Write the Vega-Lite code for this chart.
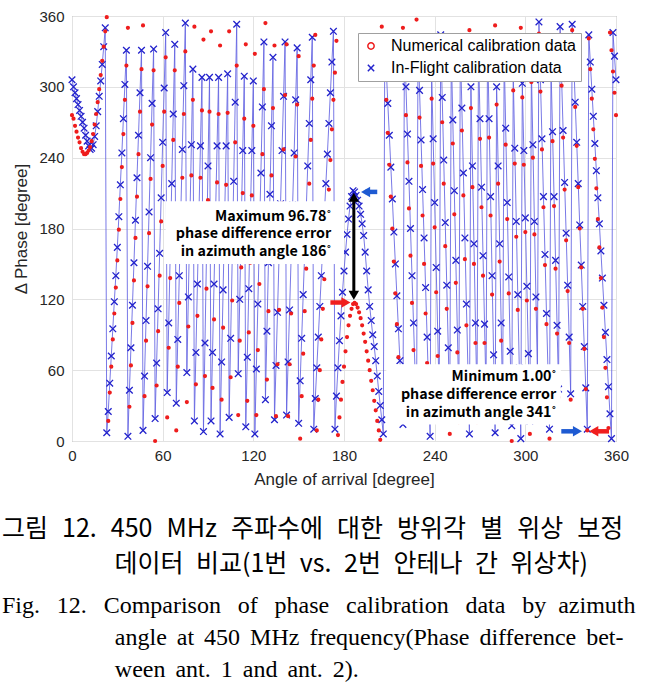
{
"$schema":"https://vega.github.io/schema/vega-lite/v6.json",
"width":544,"height":425,
"autosize":"none",
"padding":{"left":72,"top":16,"right":34,"bottom":256},
"background":"white",
"config":{"view":{"stroke":"#8c8c8c","strokeWidth":1},"font":"Liberation Sans"},
"title":{"text":["그림\u2002\u200a12.\u2002\u200a450\u2002\u200aMHz\u2002\u200a주파수에\u2002\u200a대한\u2002\u200a방위각\u2002\u200a별\u2002\u200a위상\u2002\u200a보정","\u200b\u3000\u3000\u3000\u3000\u2002데이터\u2002비교(1번\u2002vs.\u20022번\u2002안테나\u2002간\u2002위상차)"],
"subtitle":["Fig.\u2002\u200912.\u2002\u2009Comparison\u2002\u2009of\u2002\u2009phase\u2002\u2009calibration\u2002\u2009data\u2002\u2009by\u2002azimuth","\u200b\u2003\u2003\u2003\u2003\u2002\u2009angle\u2004\u200aat\u2004\u200a450\u2004\u200aMHz\u2004\u200afrequency(Phase\u2004\u200adifference\u2004\u200abet-","\u200b\u2003\u2003\u2003\u2003\u2002\u2009ween\u2004\u200aant.\u2004\u200a1\u2004\u200aand\u2004\u200aant.\u2004\u200a2)."],
"orient":"bottom","anchor":"start","frame":"group","dx":-70,"offset":30,
"font":"Noto Sans CJK KR","fontSize":25,"fontWeight":"normal","color":"black","lineHeight":35,
"subtitleFont":"Liberation Serif","subtitleFontSize":24,"subtitleColor":"black","subtitleLineHeight":32,"subtitlePadding":17},
"datasets":{"cal":[
{"a":0,"n":276,"f":306},{"a":1,"n":273,"f":300},{"a":2,"n":267,"f":295},{"a":3,"n":262,"f":290},{"a":4,"n":257,"f":285},{"a":5,"n":253,"f":280},{"a":6,"n":248,"f":275},{"a":7,"n":245,"f":270},{"a":8,"n":243,"f":265},{"a":9,"n":243,"f":259},
{"a":10,"n":244,"f":254},{"a":11,"n":246,"f":250},{"a":12,"n":249,"f":247},{"a":13,"n":254,"f":248},{"a":14,"n":260,"f":251},{"a":15,"n":268,"f":258},{"a":16,"n":277,"f":267},{"a":17,"n":287,"f":279},{"a":18,"n":298,"f":292},{"a":19,"n":310,"f":305},
{"a":20,"n":322,"f":319},{"a":21,"n":334,"f":334},{"a":22,"n":347,"f":350},{"a":23,"n":359,"f":7},{"a":24,"n":17,"f":25},{"a":25,"n":41,"f":49},{"a":26,"n":63,"f":72},{"a":27,"n":86,"f":95},{"a":28,"n":108,"f":118},{"a":29,"n":130,"f":140},
{"a":30,"n":153,"f":164},{"a":31,"n":179,"f":190},{"a":32,"n":205,"f":217},{"a":33,"n":232,"f":244},{"a":34,"n":260,"f":273},{"a":35,"n":289,"f":302},{"a":36,"n":318,"f":331},{"a":37,"n":350,"f":4},{"a":38,"n":29,"f":43},{"a":39,"n":64,"f":79},
{"a":40,"n":100,"f":115},{"a":41,"n":136,"f":151},{"a":42,"n":172,"f":187},{"a":43,"n":207,"f":223},{"a":44,"n":243,"f":259},{"a":45,"n":279,"f":295},{"a":46,"n":315,"f":331},{"a":47,"n":352,"f":9},{"a":48,"n":38,"f":55},{"a":49,"n":85,"f":102},
{"a":50,"n":131,"f":148},{"a":51,"n":176,"f":194},{"a":52,"n":222,"f":240},{"a":53,"n":268,"f":286},{"a":54,"n":314,"f":332},{"a":55,"n":0,"f":19},{"a":56,"n":47,"f":66},{"a":57,"n":93,"f":112},{"a":58,"n":140,"f":159},{"a":59,"n":186,"f":206},
{"a":60,"n":233,"f":253},{"a":61,"n":279,"f":299},{"a":62,"n":325,"f":346},{"a":63,"n":20,"f":41},{"a":64,"n":79,"f":100},{"a":65,"n":138,"f":159},{"a":66,"n":196,"f":218},{"a":67,"n":255,"f":277},{"a":68,"n":314,"f":336},{"a":69,"n":9,"f":32},
{"a":70,"n":63,"f":86},{"a":71,"n":117,"f":140},{"a":72,"n":169,"f":193},{"a":73,"n":223,"f":247},{"a":74,"n":277,"f":301},{"a":75,"n":330,"f":354},{"a":76,"n":33,"f":58},{"a":77,"n":97,"f":122},{"a":78,"n":162,"f":187},{"a":79,"n":225,"f":251},
{"a":80,"n":289,"f":315},{"a":81,"n":351,"f":17},{"a":82,"n":48,"f":75},{"a":83,"n":106,"f":133},{"a":84,"n":165,"f":192},{"a":85,"n":223,"f":250},{"a":86,"n":280,"f":308},{"a":87,"n":340,"f":8},{"a":88,"n":55,"f":83},{"a":89,"n":129,"f":158},
{"a":90,"n":204,"f":233},{"a":91,"n":279,"f":308},{"a":92,"n":347,"f":17},{"a":93,"n":45,"f":75},{"a":94,"n":103,"f":133},{"a":95,"n":162,"f":192},{"a":96,"n":219,"f":250},{"a":97,"n":277,"f":308},{"a":98,"n":335,"f":6},{"a":99,"n":35,"f":67},
{"a":100,"n":96,"f":128},{"a":101,"n":157,"f":189},{"a":102,"n":217,"f":250},{"a":103,"n":278,"f":311},{"a":104,"n":347,"f":20},{"a":105,"n":54,"f":87},{"a":106,"n":119,"f":153},{"a":107,"n":186,"f":220},{"a":108,"n":253,"f":287},{"a":109,"n":318,"f":353},
{"a":110,"n":22,"f":57},{"a":111,"n":85,"f":120},{"a":112,"n":147,"f":183},{"a":113,"n":210,"f":246},{"a":114,"n":273,"f":309},{"a":115,"n":336,"f":12},{"a":116,"n":34,"f":71},{"a":117,"n":92,"f":129},{"a":118,"n":151,"f":188},{"a":119,"n":208,"f":246},
{"a":120,"n":267,"f":305},{"a":121,"n":328,"f":6},{"a":122,"n":22,"f":61},{"a":123,"n":77,"f":116},{"a":124,"n":133,"f":172},{"a":125,"n":187,"f":227},{"a":126,"n":243,"f":283},{"a":127,"n":298,"f":338},{"a":128,"n":354,"f":35},{"a":129,"n":52,"f":93},
{"a":130,"n":110,"f":151},{"a":131,"n":167,"f":209},{"a":132,"n":225,"f":267},{"a":133,"n":282,"f":325},{"a":134,"n":335,"f":18},{"a":135,"n":21,"f":64},{"a":136,"n":65,"f":109},{"a":137,"n":111,"f":155},{"a":138,"n":157,"f":201},{"a":139,"n":201,"f":246},
{"a":140,"n":247,"f":292},{"a":141,"n":293,"f":338},{"a":142,"n":336,"f":22},{"a":143,"n":21,"f":67},{"a":144,"n":65,"f":111},{"a":145,"n":108,"f":155},{"a":146,"n":153,"f":200},{"a":147,"n":197,"f":244},{"a":148,"n":241,"f":289},{"a":149,"n":285,"f":333},
{"a":150,"n":326,"f":15},{"a":151,"n":2,"f":51},{"a":152,"n":38,"f":87},{"a":153,"n":74,"f":124},{"a":154,"n":110,"f":160},{"a":155,"n":146,"f":196},{"a":156,"n":182,"f":233},{"a":157,"n":218,"f":269},{"a":158,"n":255,"f":306},{"a":159,"n":290,"f":342},
{"a":160,"n":318,"f":10},{"a":161,"n":344,"f":36},{"a":162,"n":9,"f":62},{"a":163,"n":35,"f":88},{"a":164,"n":60,"f":114},{"a":165,"n":86,"f":140},{"a":166,"n":112,"f":166},{"a":167,"n":137,"f":192},{"a":168,"n":163,"f":218},{"a":169,"n":187,"f":243},
{"a":170,"n":213,"f":269},{"a":171,"n":238,"f":295},{"a":172,"n":264,"f":321},{"a":173,"n":289,"f":347},{"a":174,"n":312,"f":10},{"a":175,"n":339,"f":38},{"a":176,"n":5,"f":62},{"a":177,"n":20,"f":85},{"a":178,"n":35,"f":106},{"a":179,"n":50,"f":126},
{"a":180,"n":63,"f":144},{"a":181,"n":76,"f":160},{"a":182,"n":88,"f":175},{"a":183,"n":98,"f":188},{"a":184,"n":106,"f":199},{"a":185,"n":112,"f":207},{"a":186,"n":116,"f":212},{"a":187,"n":117,"f":211},{"a":188,"n":116,"f":208},{"a":189,"n":113,"f":204},
{"a":190,"n":109,"f":199},{"a":191,"n":104,"f":192},{"a":192,"n":98,"f":184},{"a":193,"n":91,"f":174},{"a":194,"n":84,"f":160},{"a":195,"n":76,"f":144},{"a":196,"n":68,"f":128},{"a":197,"n":60,"f":114},{"a":198,"n":51,"f":102},{"a":199,"n":43,"f":90},
{"a":200,"n":34,"f":80},{"a":201,"n":26,"f":68},{"a":202,"n":17,"f":55},{"a":203,"n":9,"f":42},{"a":204,"n":1,"f":30},{"a":205,"n":351,"f":18},{"a":206,"n":340,"f":6},{"a":207,"n":316,"f":341},{"a":208,"n":289,"f":314},{"a":209,"n":261,"f":286},
{"a":210,"n":234,"f":259},{"a":211,"n":207,"f":232},{"a":212,"n":180,"f":205},{"a":213,"n":152,"f":177},{"a":214,"n":125,"f":150},{"a":215,"n":99,"f":123},{"a":216,"n":71,"f":95},{"a":217,"n":44,"f":68},{"a":218,"n":17,"f":41},{"a":219,"n":350,"f":14},
{"a":220,"n":316,"f":340},{"a":221,"n":276,"f":300},{"a":222,"n":236,"f":260},{"a":223,"n":197,"f":220},{"a":224,"n":157,"f":180},{"a":225,"n":117,"f":140},{"a":226,"n":77,"f":100},{"a":227,"n":37,"f":60},{"a":228,"n":357,"f":20},{"a":229,"n":316,"f":339},
{"a":230,"n":274,"f":297},{"a":231,"n":233,"f":255},{"a":232,"n":191,"f":213},{"a":233,"n":150,"f":172},{"a":234,"n":108,"f":130},{"a":235,"n":66,"f":88},{"a":236,"n":24,"f":46},{"a":237,"n":342,"f":4},{"a":238,"n":290,"f":311},{"a":239,"n":235,"f":256},
{"a":240,"n":181,"f":202},{"a":241,"n":126,"f":147},{"a":242,"n":72,"f":93},{"a":243,"n":17,"f":38},{"a":244,"n":323,"f":344},{"a":245,"n":270,"f":291},{"a":246,"n":218,"f":238},{"a":247,"n":165,"f":185},{"a":248,"n":112,"f":132},{"a":249,"n":59,"f":79},
{"a":250,"n":6,"f":26},{"a":251,"n":311,"f":331},{"a":252,"n":252,"f":272},{"a":253,"n":192,"f":212},{"a":254,"n":134,"f":153},{"a":255,"n":75,"f":94},{"a":256,"n":16,"f":35},{"a":257,"n":319,"f":338},{"a":258,"n":263,"f":282},{"a":259,"n":208,"f":227},
{"a":260,"n":154,"f":172},{"a":261,"n":98,"f":116},{"a":262,"n":43,"f":61},{"a":263,"n":348,"f":6},{"a":264,"n":282,"f":300},{"a":265,"n":215,"f":233},{"a":266,"n":150,"f":167},{"a":267,"n":83,"f":100},{"a":268,"n":16,"f":33},{"a":269,"n":314,"f":331},
{"a":270,"n":256,"f":273},{"a":271,"n":198,"f":215},{"a":272,"n":140,"f":157},{"a":273,"n":83,"f":99},{"a":274,"n":25,"f":41},{"a":275,"n":324,"f":340},{"a":276,"n":257,"f":273},{"a":277,"n":191,"f":207},{"a":278,"n":124,"f":140},{"a":279,"n":58,"f":73},
{"a":280,"n":352,"f":7},{"a":281,"n":285,"f":300},{"a":282,"n":218,"f":233},{"a":283,"n":152,"f":167},{"a":284,"n":85,"f":100},{"a":285,"n":19,"f":33},{"a":286,"n":314,"f":328},{"a":287,"n":251,"f":265},{"a":288,"n":188,"f":202},{"a":289,"n":125,"f":139},
{"a":290,"n":62,"f":76},{"a":291,"n":0,"f":13},{"a":292,"n":297,"f":310},{"a":293,"n":235,"f":248},{"a":294,"n":173,"f":186},{"a":295,"n":111,"f":124},{"a":296,"n":49,"f":62},{"a":297,"n":350,"f":2},{"a":298,"n":291,"f":303},{"a":299,"n":234,"f":246},
{"a":300,"n":177,"f":189},{"a":301,"n":119,"f":131},{"a":302,"n":62,"f":74},{"a":303,"n":6,"f":17},{"a":304,"n":304,"f":315},{"a":305,"n":240,"f":251},{"a":306,"n":175,"f":186},{"a":307,"n":112,"f":122},{"a":308,"n":48,"f":58},{"a":309,"n":345,"f":355},
{"a":310,"n":296,"f":306},{"a":311,"n":247,"f":256},{"a":312,"n":198,"f":207},{"a":313,"n":149,"f":158},{"a":314,"n":99,"f":108},{"a":315,"n":51,"f":59},{"a":316,"n":2,"f":10},{"a":317,"n":308,"f":316},{"a":318,"n":254,"f":262},{"a":319,"n":199,"f":207},
{"a":320,"n":146,"f":153},{"a":321,"n":91,"f":98},{"a":322,"n":37,"f":44},{"a":323,"n":344,"f":351},{"a":324,"n":301,"f":307},{"a":325,"n":257,"f":263},{"a":326,"n":213,"f":219},{"a":327,"n":170,"f":176},{"a":328,"n":127,"f":132},{"a":329,"n":83,"f":88},
{"a":330,"n":35,"f":40},{"a":331,"n":348,"f":353},{"a":332,"n":318,"f":322},{"a":333,"n":283,"f":287},{"a":334,"n":250,"f":253},{"a":335,"n":215,"f":218},{"a":336,"n":180,"f":183},{"a":337,"n":147,"f":149},{"a":338,"n":112,"f":114},{"a":339,"n":78,"f":80},
{"a":340,"n":44,"f":45},{"a":341,"n":9,"f":10},{"a":342,"n":341,"f":344},{"a":343,"n":315,"f":321},{"a":344,"n":290,"f":298},{"a":345,"n":264,"f":275},{"a":346,"n":239,"f":252},{"a":347,"n":214,"f":229},{"a":348,"n":188,"f":206},{"a":349,"n":164,"f":184},
{"a":350,"n":138,"f":161},{"a":351,"n":113,"f":138},{"a":352,"n":88,"f":115},{"a":353,"n":62,"f":92},{"a":354,"n":37,"f":69},{"a":355,"n":11,"f":46},{"a":356,"n":346,"f":23},{"a":357,"n":331,"f":2},{"a":358,"n":313,"f":346},{"a":359,"n":295,"f":326},
{"a":360,"n":276,"f":306}
]},
"layer":[
{"data":{"name":"cal"},
 "mark":{"type":"line","color":"#6262e2","strokeWidth":1,"opacity":0.85},
 "encoding":{
  "x":{"field":"a","type":"quantitative","scale":{"domain":[0,360],"nice":false},
   "axis":{"values":[0,60,120,180,240,300,360],"labelFlush":false,"grid":true,"gridColor":"#e2e2e2","domain":false,"ticks":false,"labelFontSize":15,"labelColor":"#262626","labelPadding":7,"labelFont":"Liberation Sans","title":"Angle of arrival [degree]","titleFont":"Liberation Sans","titleFontSize":17,"titleFontWeight":"normal","titleColor":"#262626","titlePadding":8}},
  "y":{"field":"f","type":"quantitative","scale":{"domain":[0,360],"nice":false},
   "axis":{"values":[0,60,120,180,240,300,360],"labelFlush":false,"grid":true,"gridColor":"#e2e2e2","domain":false,"ticks":false,"labelFontSize":15,"labelColor":"#262626","labelPadding":8,"labelFont":"Liberation Sans","title":"Δ Phase [degree]","titleFont":"Liberation Sans","titleFontSize":17,"titleFontWeight":"normal","titleColor":"#262626","titlePadding":8}}}},
{"data":{"name":"cal"},
 "mark":{"type":"point","filled":false,"size":44,"strokeWidth":1.3,"opacity":1},
 "encoding":{
  "x":{"field":"a","type":"quantitative"},
  "y":{"field":"f","type":"quantitative"},
  "color":{"datum":"f","type":"nominal","scale":{"domain":["n","f"],"range":["#ee1c1c","#2222cc"]},
   "legend":{"orient":"none","legendX":286,"legendY":17,"title":null,"fillColor":"white","strokeColor":"#a0a0a0","padding":5,"labelFontSize":16,"labelFont":"Liberation Sans","labelColor":"black","labelLimit":320,"rowPadding":6,"labelOffset":12,"symbolSize":40,
    "labelExpr":"datum.value === 'n' ? 'Numerical calibration data' : 'In-Flight calibration data'",
    "encode":{"symbols":{
      "shape":{"value":{"expr":"datum.value === 'f' ? 'M-3.7,0L3.7,0M-1,-1L1,1M-1,1L1,-1' : 'circle'"}},
      "size":{"value":{"expr":"datum.value === 'f' ? 40 : 9"}},
      "fill":{"value":{"expr":"datum.value === 'f' ? 'transparent' : '#ee1c1c'"}},
      "strokeWidth":{"value":{"expr":"datum.value === 'f' ? 1.2 : 1"}}}}}},
  "shape":{"datum":"f","type":"nominal","scale":{"domain":["n","f"],"range":["circle","M-1,-1L1,1M-1,1L1,-1"]},"legend":null}}},
{"data":{"name":"cal"},
 "mark":{"type":"point","filled":false,"size":4,"strokeWidth":2.2,"opacity":1},
 "encoding":{
  "x":{"field":"a","type":"quantitative"},
  "y":{"field":"n","type":"quantitative"},
  "color":{"datum":"n","type":"nominal"},
  "shape":{"datum":"n","type":"nominal","legend":null}}},
{"data":{"values":[{}]},"mark":{"type":"rect","fill":"white"},
 "encoding":{"x":{"datum":62,"type":"quantitative"},"x2":{"datum":180},"y":{"datum":150,"type":"quantitative"},"y2":{"datum":203}}},
{"data":{"values":[{}]},"mark":{"type":"text","align":"right","baseline":"middle","font":"Noto Sans CJK KR","fontWeight":"bold","fontSize":14.3,"lineHeight":17.5,"color":"black"},
 "encoding":{"x":{"datum":171.5,"type":"quantitative"},"y":{"datum":190,"type":"quantitative"},"text":{"value":["Maximum 96.78˚","phase difference error","in azimuth angle 186˚"]}}},
{"data":{"values":[{}]},"mark":{"type":"rect","fill":"white"},
 "encoding":{"x":{"datum":208,"type":"quantitative"},"x2":{"datum":323.5},"y":{"datum":14,"type":"quantitative"},"y2":{"datum":65}}},
{"data":{"values":[{}]},"mark":{"type":"text","align":"right","baseline":"middle","font":"Noto Sans CJK KR","fontWeight":"bold","fontSize":14.3,"lineHeight":18,"color":"black"},
 "encoding":{"x":{"datum":320.5,"type":"quantitative"},"y":{"datum":54.5,"type":"quantitative"},"text":{"value":["Minimum 1.00˚","phase difference error","in azimuth angle 341˚"]}}},
{"data":{"values":[{}]},"mark":{"type":"rule","color":"black","strokeWidth":3},
 "encoding":{"x":{"datum":186.5,"type":"quantitative"},"y":{"datum":123,"type":"quantitative"},"y2":{"datum":206}}},
{"data":{"values":[{}]},"mark":{"type":"point","shape":"triangle-up","filled":true,"color":"black","size":110,"opacity":1},
 "encoding":{"x":{"datum":186.5,"type":"quantitative"},"y":{"datum":206.5,"type":"quantitative"}}},
{"data":{"values":[{}]},"mark":{"type":"point","shape":"triangle-down","filled":true,"color":"black","size":110,"opacity":1},
 "encoding":{"x":{"datum":186.5,"type":"quantitative"},"y":{"datum":123.5,"type":"quantitative"}}},
{"data":{"values":[{}]},"mark":{"type":"rule","color":"#f01e1e","strokeWidth":4.5},
 "encoding":{"x":{"datum":171,"type":"quantitative"},"x2":{"datum":181},"y":{"datum":117.3,"type":"quantitative"}}},
{"data":{"values":[{}]},"mark":{"type":"point","shape":"triangle-right","filled":true,"color":"#f01e1e","size":110,"opacity":1},
 "encoding":{"x":{"datum":181.3,"type":"quantitative"},"y":{"datum":117.3,"type":"quantitative"}}},
{"data":{"values":[{}]},"mark":{"type":"rule","color":"#1e5ad2","strokeWidth":4.5},
 "encoding":{"x":{"datum":194,"type":"quantitative"},"x2":{"datum":202},"y":{"datum":211,"type":"quantitative"}}},
{"data":{"values":[{}]},"mark":{"type":"point","shape":"triangle-left","filled":true,"color":"#1e5ad2","size":110,"opacity":1},
 "encoding":{"x":{"datum":194.3,"type":"quantitative"},"y":{"datum":211,"type":"quantitative"}}},
{"data":{"values":[{}]},"mark":{"type":"rule","color":"#1e5ad2","strokeWidth":4.5},
 "encoding":{"x":{"datum":323.8,"type":"quantitative"},"x2":{"datum":334},"y":{"datum":8.2,"type":"quantitative"}}},
{"data":{"values":[{}]},"mark":{"type":"point","shape":"triangle-right","filled":true,"color":"#1e5ad2","size":110,"opacity":1},
 "encoding":{"x":{"datum":334.5,"type":"quantitative"},"y":{"datum":8.2,"type":"quantitative"}}},
{"data":{"values":[{}]},"mark":{"type":"rule","color":"#f01e1e","strokeWidth":4.5},
 "encoding":{"x":{"datum":345,"type":"quantitative"},"x2":{"datum":355.4},"y":{"datum":8.2,"type":"quantitative"}}},
{"data":{"values":[{}]},"mark":{"type":"point","shape":"triangle-left","filled":true,"color":"#f01e1e","size":110,"opacity":1},
 "encoding":{"x":{"datum":345.3,"type":"quantitative"},"y":{"datum":8.2,"type":"quantitative"}}}
]
}
